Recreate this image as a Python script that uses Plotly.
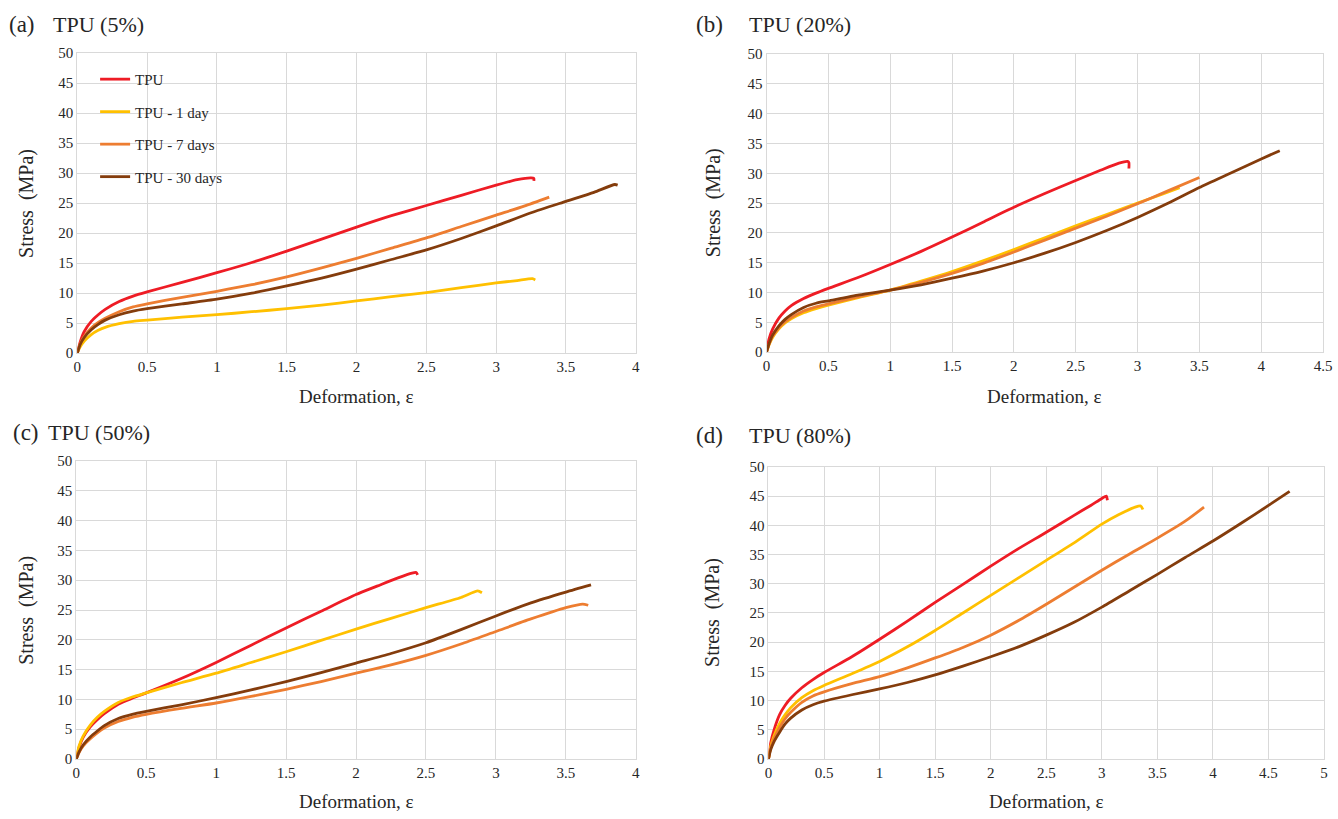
import plotly.graph_objects as go

# ---------------- data ----------------
series_names = ["TPU", "TPU - 1 day", "TPU - 7 days", "TPU - 30 days"]
series_colors = ["#EE1C25", "#FFC000", "#ED7D31", "#843C0C"]
panel_labels = ["(a)", "(b)", "(c)", "(d)"]
panel_titles = ["TPU (5%)", "TPU (20%)", "TPU (50%)", "TPU (80%)"]
x_title = "Deformation, ε"
y_title = "Stress\u00a0\u00a0(MPa)"
x_max = [4, 4.5, 4, 5]
x_tick_vals = [[0, 0.5, 1, 1.5, 2, 2.5, 3, 3.5, 4],
               [0, 0.5, 1, 1.5, 2, 2.5, 3, 3.5, 4, 4.5],
               [0, 0.5, 1, 1.5, 2, 2.5, 3, 3.5, 4],
               [0, 0.5, 1, 1.5, 2, 2.5, 3, 3.5, 4, 4.5, 5]]
y_tick_vals = [0, 5, 10, 15, 20, 25, 30, 35, 40, 45, 50]

# panel (a) TPU 5%
a_tpu_x = [0, 0.02, 0.05, 0.1, 0.15, 0.2, 0.3, 0.4, 0.5, 0.75, 1.0, 1.25, 1.5, 1.75, 2.0, 2.25, 2.5, 2.75, 3.0, 3.15, 3.25, 3.27, 3.27]
a_tpu_y = [0, 1.8, 3.6, 5.3, 6.4, 7.3, 8.6, 9.5, 10.2, 11.8, 13.4, 15.1, 17.0, 19.0, 21.0, 22.9, 24.6, 26.3, 28.0, 28.9, 29.2, 29.1, 28.7]
a_d1_x = [0, 0.02, 0.05, 0.1, 0.15, 0.2, 0.3, 0.4, 0.5, 0.75, 1.0, 1.25, 1.5, 1.75, 2.0, 2.25, 2.5, 2.75, 3.0, 3.15, 3.26, 3.28]
a_d1_y = [0, 1.0, 2.0, 3.1, 3.8, 4.3, 4.9, 5.3, 5.5, 6.0, 6.4, 6.9, 7.4, 8.0, 8.7, 9.4, 10.1, 10.9, 11.7, 12.1, 12.4, 12.2]
a_d7_x = [0, 0.02, 0.05, 0.1, 0.15, 0.2, 0.3, 0.4, 0.5, 0.75, 1.0, 1.25, 1.5, 1.75, 2.0, 2.25, 2.5, 2.75, 3.0, 3.2, 3.38]
a_d7_y = [0, 1.5, 2.8, 4.2, 5.1, 5.8, 6.9, 7.7, 8.2, 9.3, 10.3, 11.4, 12.7, 14.2, 15.8, 17.5, 19.2, 21.1, 23.0, 24.5, 26.0]
a_d30_x = [0, 0.02, 0.05, 0.1, 0.15, 0.2, 0.3, 0.4, 0.5, 0.75, 1.0, 1.25, 1.5, 1.75, 2.0, 2.25, 2.5, 2.75, 3.0, 3.25, 3.5, 3.7, 3.85, 3.87]
a_d30_y = [0, 1.4, 2.6, 3.9, 4.8, 5.5, 6.4, 7.0, 7.4, 8.2, 9.0, 10.0, 11.2, 12.5, 14.0, 15.6, 17.2, 19.1, 21.2, 23.4, 25.3, 26.8, 28.1, 28.0]

# panel (b) TPU 20%
b_tpu_x = [0, 0.02, 0.05, 0.1, 0.15, 0.2, 0.3, 0.4, 0.5, 0.75, 1.0, 1.25, 1.5, 1.75, 2.0, 2.25, 2.5, 2.7, 2.85, 2.92, 2.93, 2.93]
b_tpu_y = [0, 2.2, 3.9, 5.7, 6.9, 7.8, 9.0, 9.9, 10.7, 12.6, 14.7, 16.9, 19.3, 21.8, 24.3, 26.6, 28.8, 30.5, 31.7, 32.0, 31.8, 30.8]
b_d1_x = [0, 0.02, 0.05, 0.1, 0.15, 0.2, 0.3, 0.4, 0.5, 0.75, 1.0, 1.25, 1.5, 1.75, 2.0, 2.25, 2.5, 2.75, 3.0, 3.2, 3.34]
b_d1_y = [0, 1.2, 2.5, 3.9, 4.9, 5.6, 6.6, 7.3, 7.9, 9.2, 10.4, 11.9, 13.5, 15.3, 17.2, 19.2, 21.2, 23.1, 25.0, 26.5, 27.6]
b_d7_x = [0, 0.02, 0.05, 0.1, 0.15, 0.2, 0.3, 0.4, 0.5, 0.75, 1.0, 1.25, 1.5, 1.75, 2.0, 2.25, 2.5, 2.75, 3.0, 3.25, 3.5]
b_d7_y = [0, 1.3, 2.7, 4.1, 5.1, 5.8, 6.9, 7.6, 8.1, 9.3, 10.4, 11.7, 13.2, 14.9, 16.8, 18.8, 20.8, 22.8, 24.9, 27.1, 29.3]
b_d30_x = [0, 0.02, 0.05, 0.1, 0.15, 0.2, 0.3, 0.4, 0.5, 0.75, 1.0, 1.25, 1.5, 1.75, 2.0, 2.25, 2.5, 2.75, 3.0, 3.25, 3.5, 3.75, 4.0, 4.15]
b_d30_y = [0, 1.4, 2.9, 4.4, 5.5, 6.3, 7.5, 8.2, 8.6, 9.6, 10.4, 11.3, 12.4, 13.6, 15.0, 16.6, 18.4, 20.4, 22.6, 25.0, 27.6, 30.0, 32.4, 33.8]

# panel (c) TPU 50%
c_tpu_x = [0, 0.02, 0.05, 0.1, 0.15, 0.2, 0.3, 0.4, 0.5, 0.75, 1.0, 1.25, 1.5, 1.75, 2.0, 2.15, 2.3, 2.4, 2.43, 2.44]
c_tpu_y = [0, 2.0, 3.7, 5.4, 6.6, 7.6, 9.2, 10.2, 11.1, 13.5, 16.2, 19.1, 22.0, 24.8, 27.6, 29.0, 30.4, 31.2, 31.3, 30.9]
c_d1_x = [0, 0.02, 0.05, 0.1, 0.15, 0.2, 0.3, 0.4, 0.5, 0.75, 1.0, 1.25, 1.5, 1.75, 2.0, 2.25, 2.5, 2.75, 2.87, 2.9]
c_d1_y = [0, 2.2, 3.9, 5.7, 7.0, 8.0, 9.5, 10.4, 11.1, 12.8, 14.4, 16.2, 18.0, 19.9, 21.8, 23.6, 25.4, 27.1, 28.2, 27.9]
c_d7_x = [0, 0.02, 0.05, 0.1, 0.15, 0.2, 0.3, 0.4, 0.5, 0.75, 1.0, 1.25, 1.5, 1.75, 2.0, 2.25, 2.5, 2.75, 3.0, 3.25, 3.5, 3.62, 3.66]
c_d7_y = [0, 1.1, 2.2, 3.4, 4.4, 5.2, 6.3, 7.0, 7.5, 8.5, 9.4, 10.5, 11.7, 13.0, 14.4, 15.8, 17.4, 19.3, 21.4, 23.5, 25.4, 26.0, 25.8]
c_d30_x = [0, 0.02, 0.05, 0.1, 0.15, 0.2, 0.3, 0.4, 0.5, 0.75, 1.0, 1.25, 1.5, 1.75, 2.0, 2.25, 2.5, 2.75, 3.0, 3.25, 3.5, 3.68]
c_d30_y = [0, 1.2, 2.4, 3.7, 4.7, 5.6, 6.8, 7.5, 8.0, 9.1, 10.3, 11.6, 13.0, 14.5, 16.1, 17.7, 19.5, 21.7, 24.0, 26.2, 28.0, 29.2]

# panel (d) TPU 80%
d_tpu_x = [0, 0.02, 0.05, 0.1, 0.15, 0.2, 0.3, 0.4, 0.5, 0.75, 1.0, 1.25, 1.5, 1.75, 2.0, 2.25, 2.5, 2.75, 2.9, 3.0, 3.04, 3.05]
d_tpu_y = [0, 2.8, 5.0, 7.6, 9.2, 10.4, 12.2, 13.6, 14.8, 17.5, 20.5, 23.6, 26.8, 29.9, 33.0, 36.0, 38.8, 41.7, 43.4, 44.6, 45.0, 44.3]
d_d1_x = [0, 0.02, 0.05, 0.1, 0.15, 0.2, 0.3, 0.4, 0.5, 0.75, 1.0, 1.25, 1.5, 1.75, 2.0, 2.25, 2.5, 2.75, 3.0, 3.15, 3.3, 3.35, 3.37]
d_d1_y = [0, 2.2, 4.0, 6.1, 7.6, 8.8, 10.5, 11.7, 12.6, 14.6, 16.7, 19.2, 22.0, 25.0, 28.0, 31.0, 34.0, 37.0, 40.2, 41.8, 43.1, 43.3, 42.7]
d_d7_x = [0, 0.02, 0.05, 0.1, 0.15, 0.2, 0.3, 0.4, 0.5, 0.75, 1.0, 1.25, 1.5, 1.75, 2.0, 2.25, 2.5, 2.75, 3.0, 3.25, 3.5, 3.75, 3.92]
d_d7_y = [0, 1.9, 3.5, 5.4, 6.9, 8.0, 9.7, 10.8, 11.5, 12.9, 14.1, 15.6, 17.3, 19.1, 21.2, 23.7, 26.5, 29.4, 32.3, 35.1, 37.8, 40.7, 43.1]
d_d30_x = [0, 0.02, 0.05, 0.1, 0.15, 0.2, 0.3, 0.4, 0.5, 0.75, 1.0, 1.25, 1.5, 1.75, 2.0, 2.25, 2.5, 2.75, 3.0, 3.25, 3.5, 3.75, 4.0, 4.25, 4.5, 4.69]
d_d30_y = [0, 1.6, 3.0, 4.6, 6.0, 7.0, 8.4, 9.3, 9.9, 11.0, 12.0, 13.1, 14.4, 15.9, 17.5, 19.2, 21.2, 23.4, 26.0, 28.8, 31.6, 34.5, 37.3, 40.3, 43.4, 45.8]

panels = [
    [(a_tpu_x, a_tpu_y), (a_d1_x, a_d1_y), (a_d7_x, a_d7_y), (a_d30_x, a_d30_y)],
    [(b_tpu_x, b_tpu_y), (b_d1_x, b_d1_y), (b_d7_x, b_d7_y), (b_d30_x, b_d30_y)],
    [(c_tpu_x, c_tpu_y), (c_d1_x, c_d1_y), (c_d7_x, c_d7_y), (c_d30_x, c_d30_y)],
    [(d_tpu_x, d_tpu_y), (d_d1_x, d_d1_y), (d_d7_x, d_d7_y), (d_d30_x, d_d30_y)],
]

# ---------------- layout geometry (pixels) ----------------
W, H = 1338, 819
FONT = "Liberation Serif"
TXT = "#262626"
GRID = "#D9D9D9"

# plot areas: left, right, top, bottom in px
areas = [(74, 638, 46, 352), (770, 1332, 47, 351), (73, 638, 462, 766), (772, 1333, 468, 766)]
label_pos = [(3, 17), (697, 17), (7, 433), (697, 436)]
title_pos = [(47, 17), (750, 17), (42, 433), (750, 436)]
xtitle_top = [383, 383, 797, 797]
ytitle_x = [22, 716, 22, 716]

fig = go.Figure()

for p, series in enumerate(panels):
    sfx = "" if p == 0 else str(p + 1)
    for s in range(4):
        xs, ys = series[s]
        fig.add_trace(go.Scatter(
            x=xs, y=ys, mode="lines", name=series_names[s],
            line=dict(color=series_colors[s], width=2.8, shape="spline", smoothing=0.6),
            xaxis="x" + sfx, yaxis="y" + sfx,
            showlegend=(p == 0), legendgroup=series_names[s],
            hoverinfo="skip",
        ))

layout = dict(
    width=W, height=H,
    margin=dict(l=0, r=0, t=0, b=0),
    paper_bgcolor="white", plot_bgcolor="white",
    font=dict(family=FONT, size=15, color=TXT),
    legend=dict(
        x=92 / W, y=1 - 56 / H, xanchor="left", yanchor="top",
        bgcolor="rgba(0,0,0,0)", font=dict(family=FONT, size=15, color=TXT),
        tracegroupgap=10, itemwidth=30,
    ),
    annotations=[],
)

for p in range(4):
    sfx = "" if p == 0 else str(p + 1)
    l, r, t, b = areas[p]
    layout["xaxis" + sfx] = dict(
        domain=[l / W, r / W], range=[0, x_max[p]], tickvals=x_tick_vals[p],
        anchor="y" + sfx, showgrid=True, gridcolor=GRID, gridwidth=1,
        showline=True, linecolor=GRID, linewidth=1, mirror=True,
        zeroline=False, ticks="", fixedrange=True,
        tickfont=dict(family=FONT, size=15, color=TXT),
    )
    layout["yaxis" + sfx] = dict(
        domain=[1 - b / H, 1 - t / H], range=[0, 50], tickvals=y_tick_vals,
        anchor="x" + sfx, showgrid=True, gridcolor=GRID, gridwidth=1,
        showline=True, linecolor=GRID, linewidth=1, mirror=True,
        zeroline=False, ticks="", fixedrange=True,
        tickfont=dict(family=FONT, size=15, color=TXT),
    )
    # axis titles
    layout["annotations"].append(dict(
        text=x_title, x=(l + r) / 2 / W, y=1 - xtitle_top[p] / H, xref="paper", yref="paper",
        xanchor="center", yanchor="top", showarrow=False,
        font=dict(family=FONT, size=19, color=TXT),
    ))
    layout["annotations"].append(dict(
        text=y_title, x=ytitle_x[p] / W, y=1 - (t + b) / 2 / H, xref="paper", yref="paper",
        xanchor="center", yanchor="middle", showarrow=False, textangle=-90,
        font=dict(family=FONT, size=20, color=TXT),
    ))
    lx, ly = label_pos[p]
    tx, ty = title_pos[p]
    layout["annotations"].append(dict(
        text=panel_labels[p], x=lx / W, y=1 - ly / H, xref="paper", yref="paper",
        xanchor="left", yanchor="middle", showarrow=False,
        font=dict(family=FONT, size=23, color=TXT),
    ))
    layout["annotations"].append(dict(
        text=panel_titles[p], x=tx / W, y=1 - ty / H, xref="paper", yref="paper",
        xanchor="left", yanchor="middle", showarrow=False,
        font=dict(family=FONT, size=22, color=TXT),
    ))

fig.update_layout(**layout)
fig.write_html("out.html")
